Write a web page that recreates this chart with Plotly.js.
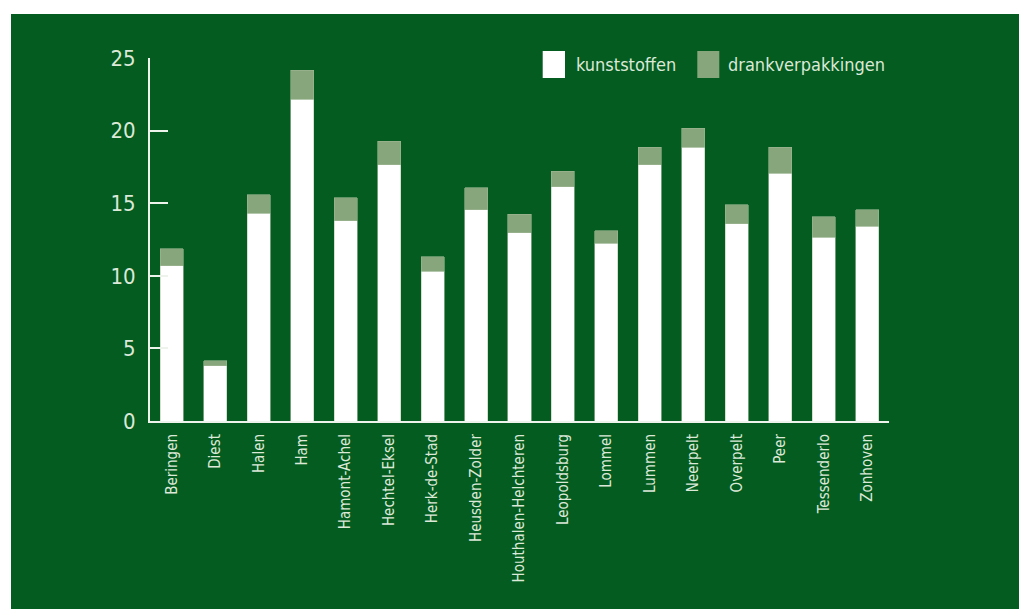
<!DOCTYPE html>
<html>
<head>
<meta charset="utf-8">
<script src="https://cdn.plot.ly/plotly-3.0.1.min.js"></script>
<style>
  html, body { margin: 0; padding: 0; background: #ffffff; width: 1019px; height: 609px; overflow: hidden; }
  #chart { position: absolute; left: 11px; top: 14px; width: 1008px; height: 595px; }
</style>
</head>
<body>
<div id="chart"></div>
<script>
const gemeenten = ["Beringen", "Diest", "Halen", "Ham", "Hamont-Achel", "Hechtel-Eksel", "Herk-de-Stad", "Heusden-Zolder", "Houthalen-Helchteren", "Leopoldsburg", "Lommel", "Lummen", "Neerpelt", "Overpelt", "Peer", "Tessenderlo", "Zonhoven"];
const kunststoffen = [10.7, 3.8, 14.3, 22.15, 13.8, 17.65, 10.3, 14.55, 12.95, 16.15, 12.25, 17.65, 18.85, 13.6, 17.05, 12.65, 13.4];
const drankverpakkingen = [1.15, 0.35, 1.27, 2.0, 1.57, 1.6, 1.0, 1.5, 1.3, 1.05, 0.85, 1.2, 1.3, 1.3, 1.8, 1.4, 1.15];
const yTicks = [0, 5, 10, 15, 20, 25];
const seriesNames = ["kunststoffen", "drankverpakkingen"];

const GREEN = "#045c20";
const LIGHT = "#87a67b";
const TEXT = "#dce9d8";
const FONT = "'Liberation Sans Narrow', 'DejaVu Sans Condensed', sans-serif";

const W = 1008, H = 595;
const M = { l: 139, r: 130, t: 44, b: 188 };
const pw = W - M.l - M.r, ph = H - M.t - M.b;
const px = x => (x - M.l) / pw;
const py = y => (H - M.b - y) / ph;

const traces = [
  { type: "bar", name: seriesNames[0], x: gemeenten, y: kunststoffen,
    marker: { color: "#ffffff", line: { color: "#b9ccb3", width: 0.6 } }, showlegend: false },
  { type: "bar", name: seriesNames[1], x: gemeenten, y: drankverpakkingen,
    marker: { color: LIGHT, line: { color: "#9fb796", width: 0.6 } }, showlegend: false }
];

// custom legend (large swatches)
const legendItems = [
  { x0: 531.7, x1: 554, tx: 563, color: "#ffffff", text: seriesNames[0] },
  { x0: 686.3, x1: 708.3, tx: 714.5, color: LIGHT, text: seriesNames[1] }
];
const shapes = legendItems.map(it => ({
  type: "rect", xref: "paper", yref: "paper",
  x0: px(it.x0), x1: px(it.x1), y0: py(64), y1: py(37),
  fillcolor: it.color, line: { width: 0 }
}));
const annotations = legendItems.map(it => ({
  xref: "paper", yref: "paper", x: px(it.tx), y: py(51), xanchor: "left", yanchor: "middle",
  text: it.text, showarrow: false, font: { family: FONT, size: 18, color: TEXT }
}));

const layout = {
  width: W, height: H,
  margin: M,
  paper_bgcolor: GREEN, plot_bgcolor: GREEN,
  barmode: "stack", bargap: 0.47,
  showlegend: false,
  font: { family: FONT, color: TEXT },
  xaxis: {
    type: "category", showgrid: false, zeroline: false,
    showline: true, linecolor: "#eef4ec", linewidth: 2,
    ticks: "", tickangle: -90, ticklabelstandoff: 5,
    tickfont: { family: FONT, size: 15, color: TEXT }
  },
  yaxis: {
    range: [0, 25], tickvals: yTicks, ticktext: yTicks.map(String),
    showgrid: false, zeroline: false,
    showline: true, linecolor: "#eef4ec", linewidth: 2,
    ticks: "inside", ticklen: 18, tickwidth: 2, tickcolor: "#eef4ec",
    ticklabelstandoff: 8,
    tickfont: { family: FONT, size: 22, color: TEXT }
  },
  shapes, annotations
};

Plotly.newPlot("chart", traces, layout, { displayModeBar: false, staticPlot: true });
</script>
</body>
</html>
